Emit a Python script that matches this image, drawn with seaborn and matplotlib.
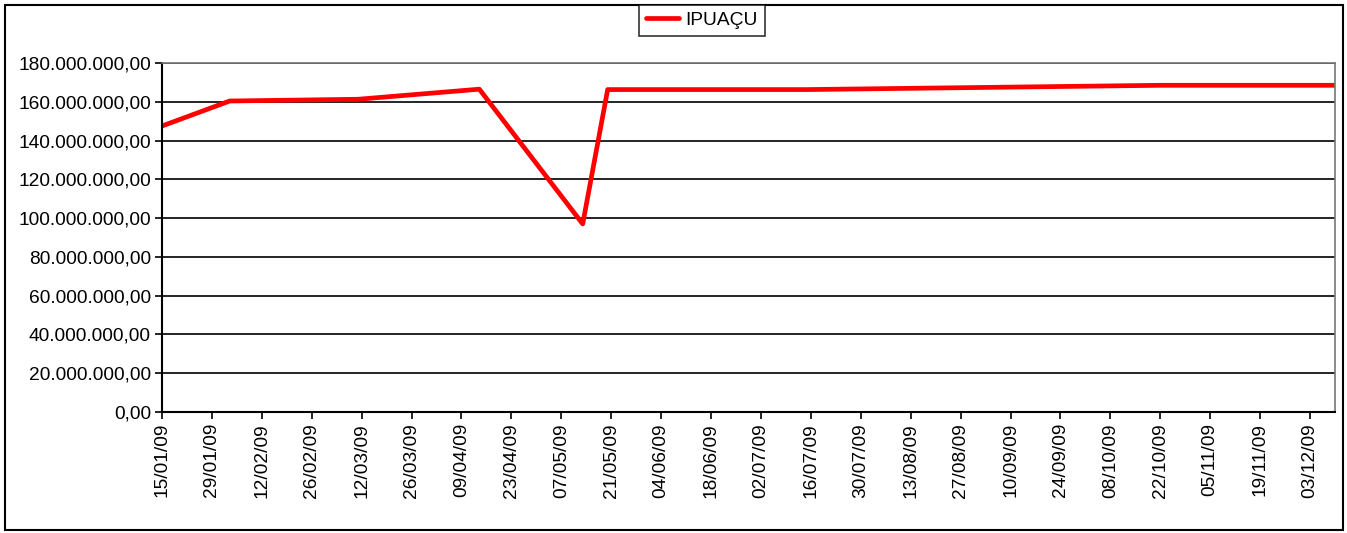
import pandas as pd
import seaborn as sns
import matplotlib.pyplot as plt
import matplotlib.dates as mdates
from matplotlib.ticker import FuncFormatter, MultipleLocator
from matplotlib.patches import Rectangle

# values
dates = ['2009-01-15', '2009-02-03', '2009-03-11', '2009-04-14', '2009-05-13',
         '2009-05-20', '2009-07-15', '2009-10-22', '2009-12-10']
values = [147.5e6, 160.4e6, 161.3e6, 166.5e6, 97.0e6,
          166.3e6, 166.3e6, 168.5e6, 168.5e6]
series_name = 'IPUAÇU'

df = pd.DataFrame({'data': pd.to_datetime(dates), 'valor': values, 'serie': series_name})

sns.set_style('white')
plt.rcParams['font.family'] = ['Liberation Sans', 'DejaVu Sans']
plt.rcParams['text.color'] = 'black'

fig = plt.figure(figsize=(13.47, 5.33), dpi=100)
ax = fig.add_axes([162 / 1347, 1 - 412 / 533, (1335 - 162) / 1347, (412 - 63) / 533])

sns.lineplot(data=df, x='data', y='valor', hue='serie', palette=['#ff0000'],
             linewidth=3.4, ax=ax, legend=True)

ax.set_xlim(pd.Timestamp('2009-01-15'), pd.Timestamp('2009-12-10'))
ax.set_ylim(0, 180e6)
ax.yaxis.set_major_locator(MultipleLocator(20e6))


def br_fmt(v, pos):
    s = f'{v:,.2f}'
    return s.replace(',', 'X').replace('.', ',').replace('X', '.')


ax.yaxis.set_major_formatter(FuncFormatter(br_fmt))
ax.set_xticks(pd.date_range('2009-01-15', periods=24, freq='14D'))
ax.xaxis.set_major_formatter(mdates.DateFormatter('%d/%m/%y'))
plt.setp(ax.get_xticklabels(), rotation=90)

ax.grid(axis='y', color='black', linewidth=1.2)
ax.grid(axis='x', visible=False)
ax.set_axisbelow(True)
ax.tick_params(axis='both', labelsize=13.8, colors='black', length=5, width=1.2,
               direction='out', left=True, bottom=True, pad=3)
ax.set_xlabel('')
ax.set_ylabel('')
for side in ['left', 'bottom']:
    ax.spines[side].set_color('black')
    ax.spines[side].set_linewidth(1.5)
for side in ['top', 'right']:
    ax.spines[side].set_color('#777777')
    ax.spines[side].set_linewidth(1.2)

ax.get_legend().remove()
handles, labels = ax.get_legend_handles_labels()
leg = fig.legend(handles, labels, loc='upper center',
                 bbox_to_anchor=(702 / 1347, 1 - 5 / 533),
                 frameon=True, fancybox=False, fontsize=13.8, handlelength=1.7,
                 handletextpad=0.35, borderpad=0.35, borderaxespad=0)
leg.get_frame().set_edgecolor('black')
leg.get_frame().set_linewidth(1.2)
for t in leg.get_texts():
    t.set_color('black')

fig.patches.append(Rectangle((5 / 1347, 3 / 533), 1338 / 1347, 525 / 533,
                             transform=fig.transFigure, fill=False,
                             edgecolor='black', linewidth=1.5))

fig.savefig('out.png', dpi=100)
